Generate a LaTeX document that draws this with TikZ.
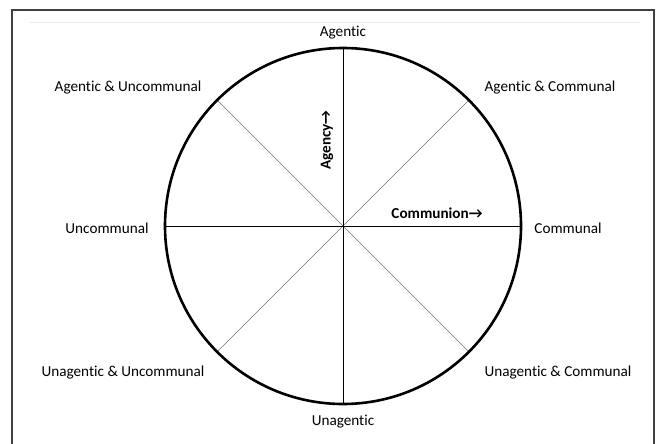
\documentclass[tikz,border=0pt]{standalone}
\usepackage{fontspec}
\setmainfont[Ligatures=NoCommon]{Carlito}
\begin{document}
\begin{tikzpicture}[x=1pt,y=-1pt,
  lbl/.style={font=\fontsize{15.2}{18}\selectfont, inner sep=0pt},
  axislbl/.style={font=\fontsize{15.2}{18}\selectfont\bfseries, inner sep=0pt},
  axis/.style={line width=1pt, black},
  diag/.style={line width=0.6pt, black!55},
  rim/.style={line width=2.6pt, black}]
\useasboundingbox (0,0) rectangle (658,444);
% frame and thin rule
\draw[line width=1.6pt, black!75] (12,444) -- (12,10) -- (654,10) -- (654,444);
\draw[line width=0.5pt, black!8] (30,22) -- (640,22);
% centre and rim points
\coordinate (o) at (343,226);
\def\R{178}
\coordinate (n) at (343,48);
\coordinate (s) at (343,404);
\coordinate (w) at (165,226);
\coordinate (e) at (521,226);
% diagonals
\foreach \a in {45,135,225,315}
  \draw[diag] (o) -- ++(\a:\R);
\draw[axis] (n) -- (s);
\draw[axis] (w) -- (e);
\draw[rim] (o) circle[radius=\R];
% labels
\node[lbl] (ag) at (343,33) {Agentic};
\node[lbl] (un) at (343,422) {Unagentic};
\node[lbl] (uc) at (107,228) {Uncommunal};
\node[lbl] (cm) at (568,228) {Communal};
\node[lbl] (au) at (128,88) {Agentic \& Uncommunal};
\node[lbl] (ac) at (550,88) {Agentic \& Communal};
\node[lbl] (uu) at (123,373) {Unagentic \& Uncommunal};
\node[lbl] (uac) at (558,373) {Unagentic \& Communal};
\node[axislbl, rotate=90] (agency) at (327,140) {Agency→};
\node[axislbl] (communion) at (437,213) {Communion→};
\end{tikzpicture}
\end{document}
